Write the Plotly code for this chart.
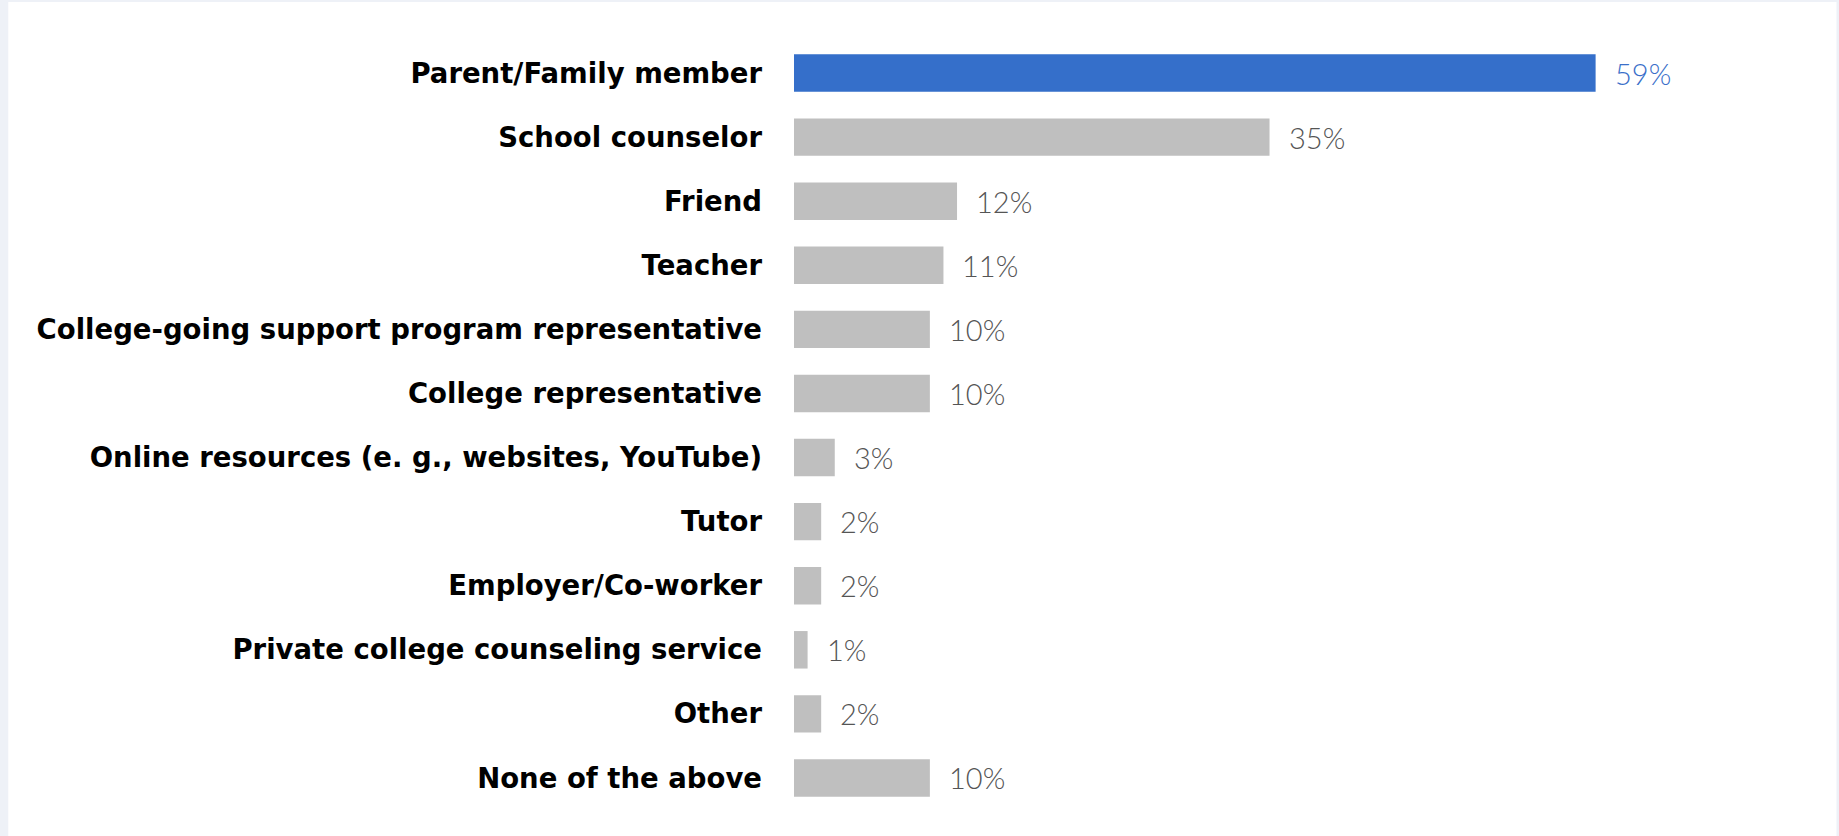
import plotly.graph_objects as go

# Survey responses, top to bottom
categories = [
    "Parent/Family member",
    "School counselor",
    "Friend",
    "Teacher",
    "College-going support program representative",
    "College representative",
    "Online resources (e. g., websites, YouTube)",
    "Tutor",
    "Employer/Co-worker",
    "Private college counseling service",
    "Other",
    "None of the above",
]
values = [59, 35, 12, 11, 10, 10, 3, 2, 2, 1, 2, 10]
highlight = "Parent/Family member"

BLUE = "#356fca"
GRAY = "#bfbfbf"
LABEL_BLUE = "#3a6fc9"
LABEL_GRAY = "#555555"

bar_colors = [BLUE if c == highlight else GRAY for c in categories]
label_colors = [LABEL_BLUE if c == highlight else LABEL_GRAY for c in categories]

W, H = 1839, 836
ML, MR, MT, MB = 793.5, 25.5, 41, 26.4
plot_w = W - ML - MR
plot_h = H - MT - MB

fig = go.Figure(
    go.Bar(
        x=values,
        y=categories,
        orientation="h",
        marker=dict(color=bar_colors, line=dict(width=0)),
        hoverinfo="skip",
    )
)

# value labels to the right of each bar
for c, v, col in zip(categories, values, label_colors):
    fig.add_annotation(
        x=v, y=c, xref="x", yref="y",
        text=f"{v}%", showarrow=False,
        xanchor="left", yanchor="middle", xshift=17,
        font=dict(family="Lato, Open Sans, sans-serif", size=29, color=col, weight=300),
    )

# white card on a pale frame
def px_to_paper_x(px):
    return (px - ML) / plot_w

def px_to_paper_y(py):
    return 1 - (py - MT) / plot_h

fig.add_shape(
    type="rect", xref="paper", yref="paper",
    x0=px_to_paper_x(7), x1=px_to_paper_x(1837),
    y0=px_to_paper_y(900), y1=px_to_paper_y(2),
    fillcolor="white", line=dict(width=0), layer="below",
)

fig.update_layout(
    width=W, height=H,
    margin=dict(l=ML, r=MR, t=MT, b=MB, pad=0),
    paper_bgcolor="#eef1f7",
    plot_bgcolor="rgba(0,0,0,0)",
    bargap=0.415,
    showlegend=False,
    xaxis=dict(range=[0, plot_w / 13.6], visible=False, fixedrange=True),
    yaxis=dict(
        autorange="reversed",
        showgrid=False, zeroline=False, showline=False,
        ticks="", ticklabelstandoff=31,
        tickfont=dict(family="DejaVu Sans, sans-serif", size=27.5, color="black", weight="bold"),
        fixedrange=True,
    ),
)

fig.write_html("out.html")
